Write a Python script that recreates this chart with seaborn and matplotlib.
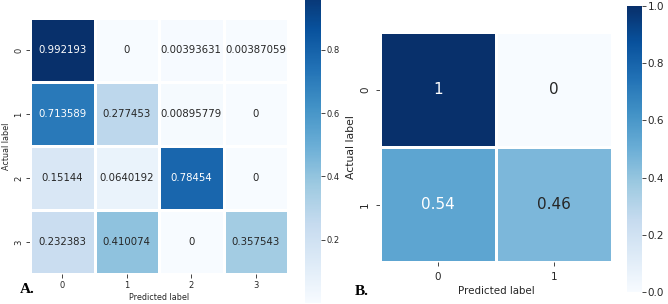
import numpy as np
import pandas as pd
import matplotlib
matplotlib.use("Agg")
import matplotlib.pyplot as plt
import seaborn as sns

# ---- data ----
labels_a = ["0", "1", "2", "3"]
row0_a = [0.992193, 0.0, 0.00393631, 0.00387059]
row1_a = [0.713589, 0.277453, 0.00895779, 0.0]
row2_a = [0.15144, 0.0640192, 0.78454, 0.0]
row3_a = [0.232383, 0.410074, 0.0, 0.357543]

labels_b = ["0", "1"]
row0_b = [1.0, 0.0]
row1_b = [0.54, 0.46]

xlabel = "Predicted label"
ylabel = "Actual label"

sns.set_style("ticks")
plt.rcParams["font.family"] = ["DejaVu Sans"]

W, H = 668, 304
fig = plt.figure(figsize=(W / 100, H / 100), dpi=100)


def px(x0, y0, x1, y1):
    return [x0 / W, 1 - y1 / H, (x1 - x0) / W, (y1 - y0) / H]


df_a = pd.DataFrame([row0_a, row1_a, row2_a, row3_a], index=labels_a, columns=labels_a)
df_b = pd.DataFrame([row0_b, row1_b], index=labels_b, columns=labels_b)

# ---- panel A ----
ax_a = fig.add_axes(px(30, 18, 288, 274))
cax_a = fig.add_axes(px(305, -11, 321, 303))
sns.heatmap(df_a, ax=ax_a, cbar_ax=cax_a, cmap="Blues", annot=True, fmt="g",
            linewidths=2, linecolor="white", vmin=0,
            annot_kws={"fontsize": 7.3})
ax_a.set_xlabel(xlabel, fontsize=5.8, color=".15", labelpad=2)
ax_a.set_ylabel(ylabel, fontsize=5.8, color=".15", labelpad=2)
ax_a.tick_params(axis="both", labelsize=6, length=3, width=0.6, colors=".15", pad=2)
ax_a.set_yticklabels(labels_a, rotation=90, va="center")
cax_a.set_yticks([0.2, 0.4, 0.6, 0.8])
cax_a.tick_params(labelsize=6, length=3, width=0.6, colors=".15", pad=1)
fig.text(20 / W, 1 - 293 / H, "A.", fontsize=11, fontweight="bold",
         family="Liberation Serif", color="black")

# ---- panel B ----
ax_b = fig.add_axes(px(380, 32, 612, 262))
cax_b = fig.add_axes(px(627, 6, 642, 292))
sns.heatmap(df_b, ax=ax_b, cbar_ax=cax_b, cmap="Blues", annot=True, fmt="g",
            linewidths=2, linecolor="white", vmin=0, vmax=1,
            annot_kws={"fontsize": 11})
ax_b.set_xlabel(xlabel, fontsize=7.4, color=".15", labelpad=3)
ax_b.set_ylabel(ylabel, fontsize=7.8, color=".15", labelpad=3)
ax_b.tick_params(axis="both", labelsize=7.5, length=3, width=0.6, colors=".15", pad=4)
ax_b.set_yticklabels(labels_b, rotation=90, va="center")
cax_b.set_yticks([0.0, 0.2, 0.4, 0.6, 0.8, 1.0])
cax_b.tick_params(labelsize=7.5, length=3, width=0.6, colors=".15", pad=1)
fig.text(355 / W, 1 - 295 / H, "B.", fontsize=11, fontweight="bold",
         family="Liberation Serif", color="black")

fig.savefig("out.png", dpi=100)
